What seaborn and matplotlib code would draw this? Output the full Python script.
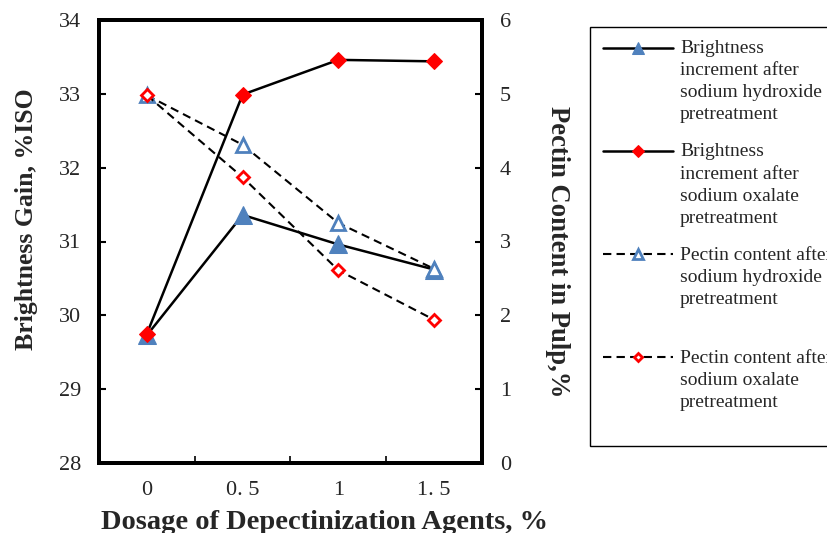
import numpy as np
import matplotlib
matplotlib.use("Agg")
import matplotlib.pyplot as plt
import seaborn as sns
from matplotlib.legend_handler import HandlerLine2D

# data
dosage_labels = ["0", "0. 5", "1", "1. 5"]
bright_naoh = [29.73, 31.36, 30.96, 30.62]
bright_oxalate = [29.75, 32.99, 33.46, 33.44]
pectin_naoh = [4.98, 4.31, 3.25, 2.63]
pectin_oxalate = [4.98, 3.87, 2.61, 1.94]

labels = [
    "Brightness\nincrement after\nsodium hydroxide\npretreatment",
    "Brightness\nincrement after\nsodium oxalate\npretreatment",
    "Pectin content after\nsodium hydroxide\npretreatment\n",
    "Pectin content after\nsodium oxalate\npretreatment\n",
]

BLUE = "#4F81BD"
RED = "#FF0000"

sns.set_theme(style="white")
plt.rcParams["font.family"] = ["Liberation Serif", "DejaVu Serif"]

LEG_SPACING = 1.39


class TopLine(HandlerLine2D):
    # put the legend handle level with the first text line
    def __init__(self, shift, **kw):
        super().__init__(**kw)
        self.shift = shift

    def create_artists(self, legend, orig_handle, xdescent, ydescent,
                       width, height, fontsize, trans):
        arts = super().create_artists(legend, orig_handle, xdescent, ydescent,
                                      width, height, fontsize, trans)
        for a in arts:
            a.set_ydata(np.asarray(a.get_ydata()) + self.shift * fontsize)
        return arts


fig = plt.figure(figsize=(8.28, 5.33), dpi=100)
ax = fig.add_axes([99 / 828, 1 - 463 / 533, 383 / 828, 443 / 533])
ax2 = ax.twinx()

x = np.arange(len(dosage_labels))

sns.lineplot(x=x, y=bright_naoh, ax=ax, color="black", linewidth=1.8,
             marker="^", markersize=12.5, markerfacecolor=BLUE,
             markeredgecolor=BLUE, label=labels[0], legend=False)
sns.lineplot(x=x, y=bright_oxalate, ax=ax, color="black", linewidth=1.8,
             marker="D", markersize=8.5, markerfacecolor=RED,
             markeredgecolor=RED, label=labels[1], legend=False)
sns.lineplot(x=x, y=pectin_naoh, ax=ax2, color="black", linewidth=1.5,
             linestyle=(0, (4, 2.5)), marker="^", markersize=10.5,
             markerfacecolor="white", markeredgecolor=BLUE,
             markeredgewidth=2, label=labels[2], legend=False)
sns.lineplot(x=x, y=pectin_oxalate, ax=ax2, color="black", linewidth=1.5,
             linestyle=(0, (4, 2.5)), marker="D", markersize=6.5,
             markerfacecolor="white", markeredgecolor=RED,
             markeredgewidth=2, label=labels[3], legend=False)

ax.set_xlim(-0.5, 3.5)
ax.set_ylim(28, 34)
ax2.set_ylim(0, 6)
ax.set_xticks(x, dosage_labels)
ax.set_xticks([0.5, 1.5, 2.5], minor=True)
ax.tick_params(axis="x", which="major", length=0, pad=13, labelsize=16)
ax.tick_params(axis="x", which="minor", direction="in", length=5, width=1.2,
               color="black", bottom=True)
ax.set_yticks(range(28, 35))
ax2.set_yticks(range(0, 7))
ax.tick_params(axis="y", direction="in", length=5, width=1.5, color="black",
               pad=13, labelsize=16, left=True)
ax2.tick_params(axis="y", direction="in", length=5, width=1.5, color="black",
                pad=13, labelsize=16, right=True)

for a in (ax, ax2):
    for s in a.spines.values():
        s.set_linewidth(2.8)
        s.set_color("black")

ax.set_xlabel("Dosage of Depectinization Agents, %", fontsize=20.5,
              fontweight="bold", va="top")
ax.xaxis.set_label_coords(0.59, -0.107)
ax.set_ylabel("Brightness Gain, %ISO", fontsize=18.5, fontweight="bold",
              va="center")
ax.yaxis.set_label_coords(-0.19, 0.55)
ax2.set_ylabel("Pectin Content in Pulp,%", fontsize=19.2, fontweight="bold",
               rotation=270, va="center")
ax2.yaxis.set_label_coords(1.197, 0.477)

handles = ax.get_lines()[:2] + ax2.get_lines()[:2]
shift = 1.5 * 0.835 * LEG_SPACING
leg = fig.legend(handles, labels, loc="upper left",
                 bbox_to_anchor=(590 / 828, 1 - 27 / 533), borderaxespad=0,
                 fontsize=14, frameon=True, fancybox=False,
                 edgecolor="black", framealpha=1, borderpad=0.68,
                 labelspacing=1.03, handlelength=3.6, handletextpad=0.35,
                 markerscale=0.7,
                 handler_map={h: TopLine(shift) for h in handles})
leg.get_frame().set_linewidth(1.0)
for t in leg.get_texts():
    t.set_linespacing(LEG_SPACING)

fig.savefig("out.png", dpi=100)
